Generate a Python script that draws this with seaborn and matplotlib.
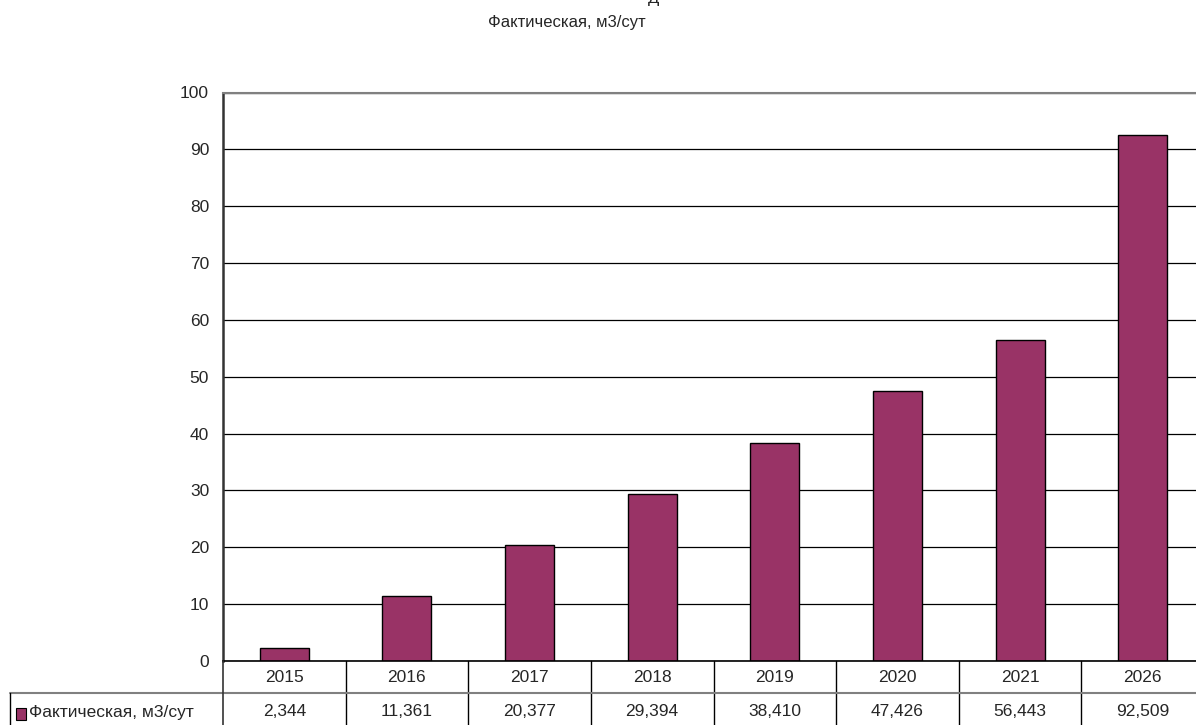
import pandas as pd
import seaborn as sns
import matplotlib
from matplotlib import pyplot as plt
from matplotlib.lines import Line2D
from matplotlib.patches import Rectangle

matplotlib.use("Agg")

# data
years = ["2015", "2016", "2017", "2018", "2019", "2020", "2021", "2026"]
values = [2.344, 11.361, 20.377, 29.394, 38.410, 47.426, 56.443, 92.509]
series_name = "Фактическая, м3/сут"
y_ticks = [0, 10, 20, 30, 40, 50, 60, 70, 80, 90, 100]

BAR = "#993366"
W, H = 1196, 725
FS = 12.5


def fx(px):
    return px / W


def fy(py):
    # pixel row (from top) -> figure fraction
    return 1 - py / H


def main():
    sns.set_style("white")
    plt.rcParams["font.family"] = ["Liberation Sans", "DejaVu Sans"]
    plt.rcParams["font.size"] = FS

    df = pd.DataFrame({"Год": years, series_name: values})

    fig = plt.figure(figsize=(W / 100, H / 100), dpi=100)
    # plot area runs a little past the right edge, as in the reference
    ax = fig.add_axes([fx(223), fy(661), fx(1204 - 223), (661 - 92.5) / H])

    sns.barplot(
        data=df,
        x="Год",
        y=series_name,
        order=years,
        color=BAR,
        edgecolor="black",
        linewidth=1,
        width=0.4,
        saturation=1,
        ax=ax,
    )

    ax.set_ylim(0, 100)
    ax.set_xlim(-0.5, len(years) - 0.5)
    ax.set_yticks(y_ticks)
    ax.set_yticklabels([str(t) for t in y_ticks], fontsize=FS)
    ax.tick_params(axis="y", length=6, width=1, color="#333333", pad=4, direction="out")
    ax.tick_params(axis="x", length=0, labelbottom=False)
    ax.set_xlabel("")
    ax.set_ylabel("")
    ax.yaxis.grid(True, color="black", linewidth=0.9)
    ax.set_axisbelow(True)

    ax.spines["right"].set_visible(False)
    ax.spines["top"].set_color("#808080")
    ax.spines["top"].set_linewidth(1.5)
    ax.spines["left"].set_color("#333333")
    ax.spines["left"].set_linewidth(1.8)
    ax.spines["bottom"].set_color("black")
    ax.spines["bottom"].set_linewidth(1.2)

    # data table under the chart
    tr = ax.get_xaxis_transform()
    row_bottom = -(H - 661) / (661 - 92.5)
    for k in range(1, len(years)):
        ax.plot([k - 0.5, k - 0.5], [0, row_bottom], color="black", lw=1,
                transform=tr, clip_on=False)
    hdr_y = -(677 - 661) / (661 - 92.5)
    val_y = -(712 - 661) / (661 - 92.5)
    for i, (yr, v) in enumerate(zip(years, values)):
        ax.text(i, hdr_y, yr, transform=tr, ha="center", va="center", fontsize=FS)
        ax.text(i, val_y, f"{v:.3f}".replace(".", ","), transform=tr,
                ha="center", va="center", fontsize=FS)

    fig.add_artist(Line2D([fx(10), 1], [fy(693), fy(693)], color="#808080",
                          lw=1.5, transform=fig.transFigure))
    fig.add_artist(Line2D([fx(10), fx(10)], [0, fy(693)], color="black",
                          lw=1, transform=fig.transFigure))
    fig.add_artist(Line2D([fx(223), fx(223)], [0, fy(661)], color="#333333",
                          lw=1.2, transform=fig.transFigure))
    fig.add_artist(Rectangle((fx(16), fy(720)), fx(10), 12 / H, facecolor=BAR,
                             edgecolor="black", lw=0.8, transform=fig.transFigure))
    fig.text(fx(29), fy(712), series_name, ha="left", va="center", fontsize=FS)

    # titles (upper line is cut off by the frame in the reference)
    fig.text(fx(654), fy(3), "Д", ha="center", va="baseline", fontsize=12)
    fig.text(fx(567), fy(23), series_name, ha="center", va="center", fontsize=12)

    fig.savefig("out.png", dpi=100)


if __name__ == "__main__":
    main()
